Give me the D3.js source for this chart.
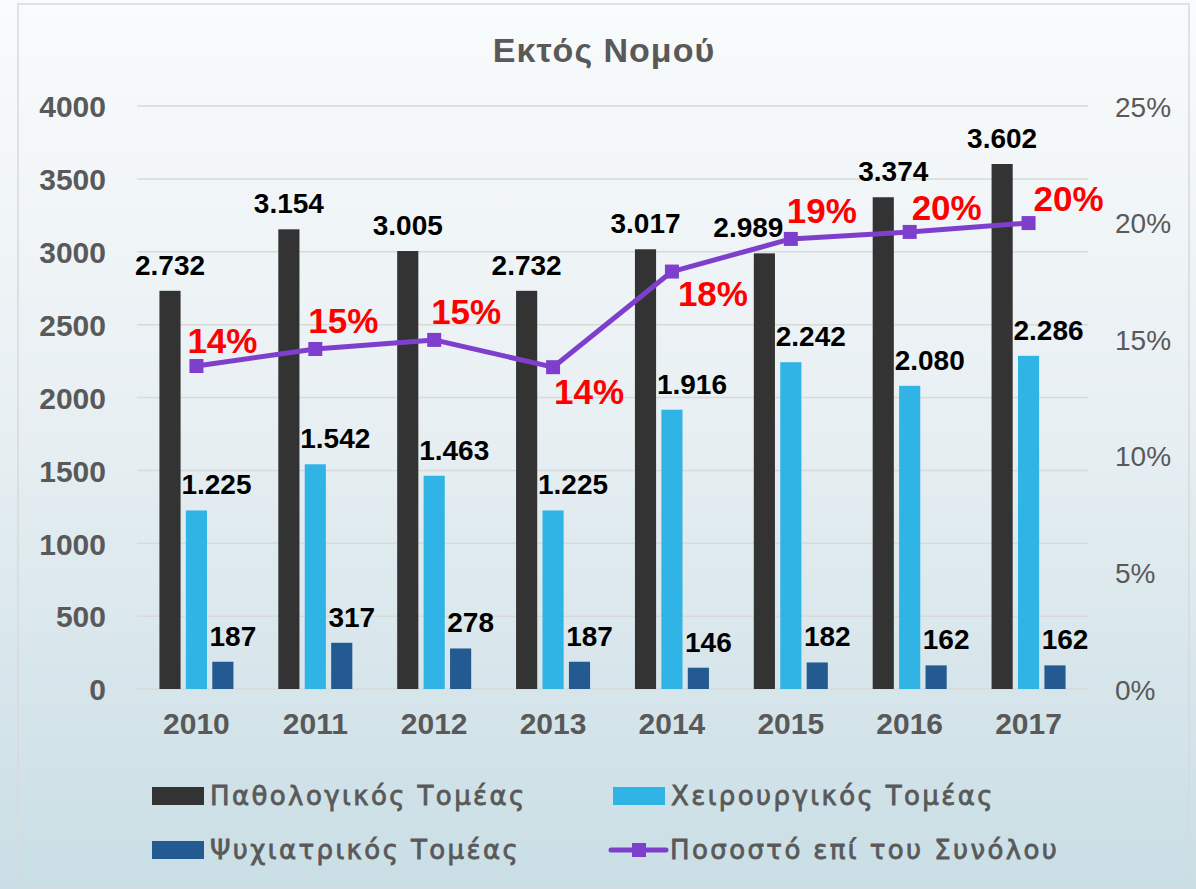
<!DOCTYPE html>
<html>
<head>
<meta charset="utf-8">
<script src="https://cdn.jsdelivr.net/npm/d3@7"></script>
<style>
  html, body { margin: 0; padding: 0; background: #fff; }
  svg { display: block; }
</style>
</head>
<body>
<div id="chart"></div>
<script>
// data
const years = ["2010", "2011", "2012", "2013", "2014", "2015", "2016", "2017"];
const pathologikos = [2732, 3154, 3005, 2732, 3017, 2989, 3374, 3602];
const xeirourgikos = [1225, 1542, 1463, 1225, 1916, 2242, 2080, 2286];
const psyxiatrikos = [187, 317, 278, 187, 146, 182, 162, 162];
const pososto = [0.1385, 0.1458, 0.1497, 0.1380, 0.1790, 0.1930, 0.1960, 0.1998];
const leftTicks = [0, 500, 1000, 1500, 2000, 2500, 3000, 3500, 4000];
const rightTicks = [0, 0.05, 0.10, 0.15, 0.20, 0.25];

const seriesNames = ["Παθολογικός Τομέας", "Χειρουργικός Τομέας", "Ψυχιατρικός Τομέας"];
const lineName = "Ποσοστό επί του Συνόλου";
const title = "Εκτός Νομού";

// layout / style
const W = 1196, H = 889;
const colors = ["#333333", "#30B4E6", "#245A92"];
const purple = "#7E40CC";
const gray = "#595959";
const NUMFONT = "'Liberation Sans', Arial, sans-serif";
const TXTFONT = "'DejaVu Sans', sans-serif";
const labelShift = [0, 20, 10];           // x shift of bar value labels per series
const darkLabelNudge = [0, 0, 0, 0, 0, -16, 10, 0]; // labels moved aside in the original
const pctOffset = [[26,-13],[28,-16],[32,-16],[36,37],[41,34],[31,-16],[37,-12],[40,-12]];

const locale = d3.formatLocale({decimal: ",", thousands: ".", grouping: [3], currency: ["", "€"]});
const fmt = locale.format(",d");

const svg = d3.select("#chart").append("svg")
  .attr("width", W).attr("height", H);

const defs = svg.append("defs");
const grad = defs.append("linearGradient").attr("id", "bg")
  .attr("x1", 0).attr("y1", 0).attr("x2", 0).attr("y2", 1);
grad.append("stop").attr("offset", "0%").attr("stop-color", "#F9FBFC");
grad.append("stop").attr("offset", "45%").attr("stop-color", "#E9F0F3");
grad.append("stop").attr("offset", "100%").attr("stop-color", "#C9DEE5");

svg.append("rect").attr("width", W).attr("height", H).attr("fill", "url(#bg)");
svg.append("rect").attr("x", 18).attr("y", 4).attr("width", 1171).attr("height", 882)
  .attr("fill", "none").attr("stroke", "#D9D9D9").attr("stroke-width", 1.5);

const plot = {l: 137, r: 1088, t: 106, b: 689};

const x = d3.scaleBand().domain(years).range([plot.l, plot.r]).padding(0);
const y = d3.scaleLinear().domain([0, 4000]).range([plot.b, plot.t]);
const y2 = d3.scaleLinear().domain([0, 0.25]).range([plot.b, plot.t]);
const xs = d3.scaleBand().domain([0, 1, 2]).range([-37, 37]).paddingInner(0.2).paddingOuter(0);

// title
svg.append("text")
  .attr("x", 604).attr("y", 62)
  .attr("text-anchor", "middle")
  .attr("font-family", NUMFONT).attr("font-weight", "bold").attr("font-size", 34)
  .attr("letter-spacing", 1)
  .attr("fill", gray)
  .text(title);

// gridlines
svg.append("g").selectAll("line")
  .data(leftTicks)
  .join("line")
  .attr("x1", plot.l).attr("x2", plot.r)
  .attr("y1", d => y(d)).attr("y2", d => y(d))
  .attr("stroke", "#D9D9D9").attr("stroke-width", 1.5);

// left axis
const leftAxis = svg.append("g")
  .attr("transform", `translate(${106},0)`)
  .call(d3.axisLeft(y).tickValues(leftTicks).tickSize(0).tickPadding(0).tickFormat(d3.format("d")));
leftAxis.select(".domain").remove();
leftAxis.selectAll("text")
  .attr("font-family", NUMFONT).attr("font-weight", "bold").attr("font-size", 30)
  .attr("fill", gray).attr("dy", "0.36em");

// right axis
const rightAxis = svg.append("g")
  .attr("transform", `translate(${1115},0)`)
  .call(d3.axisRight(y2).tickValues(rightTicks).tickSize(0).tickPadding(0).tickFormat(d3.format(".0%")));
rightAxis.select(".domain").remove();
rightAxis.selectAll("text")
  .attr("font-family", NUMFONT).attr("font-size", 28)
  .attr("fill", gray).attr("dy", "0.36em");

// bottom axis
const bottomAxis = svg.append("g")
  .attr("transform", `translate(0,${plot.b})`)
  .call(d3.axisBottom(x).tickSize(0).tickPadding(0));
bottomAxis.select(".domain").remove();
bottomAxis.selectAll("text")
  .attr("font-family", NUMFONT).attr("font-weight", "bold").attr("font-size", 30)
  .attr("fill", gray).attr("dy", "1.5em");

// bars
const series = [pathologikos, xeirourgikos, psyxiatrikos];
series.forEach((vals, si) => {
  const g = svg.append("g");
  const rows = years.map((yr, i) => ({yr, v: vals[i], i}));
  g.selectAll("rect")
    .data(rows)
    .join("rect")
    .attr("x", d => x(d.yr) + x.bandwidth() / 2 + xs(si))
    .attr("width", xs.bandwidth())
    .attr("y", d => y(d.v))
    .attr("height", d => y(0) - y(d.v))
    .attr("fill", colors[si]);
  g.selectAll("text")
    .data(rows)
    .join("text")
    .attr("x", d => x(d.yr) + x.bandwidth() / 2 + xs(si) + xs.bandwidth() / 2 + labelShift[si]
      + (si === 0 ? darkLabelNudge[d.i] : 0))
    .attr("y", d => y(d.v) - 16)
    .attr("text-anchor", "middle")
    .attr("font-family", NUMFONT).attr("font-weight", "bold").attr("font-size", 28)
    .attr("fill", "#000")
    .text(d => fmt(d.v));
});

// line
const pts = years.map((yr, i) => ({yr, v: pososto[i], i}));
const line = d3.line().x(d => x(d.yr) + x.bandwidth() / 2).y(d => y2(d.v));
svg.append("path")
  .datum(pts)
  .attr("d", line)
  .attr("fill", "none").attr("stroke", purple).attr("stroke-width", 5)
  .attr("stroke-linejoin", "round");
svg.append("g").selectAll("rect")
  .data(pts)
  .join("rect")
  .attr("x", d => x(d.yr) + x.bandwidth() / 2 - 7)
  .attr("y", d => y2(d.v) - 7)
  .attr("width", 14).attr("height", 14)
  .attr("fill", purple);
svg.append("g").selectAll("text")
  .data(pts)
  .join("text")
  .attr("x", d => x(d.yr) + x.bandwidth() / 2 + pctOffset[d.i][0])
  .attr("y", d => y2(d.v) + pctOffset[d.i][1])
  .attr("text-anchor", "middle")
  .attr("font-family", NUMFONT).attr("font-weight", "bold").attr("font-size", 35)
  .attr("fill", "#FF0000")
  .text(d => d3.format(".0%")(d.v));

// legend
const legendItems = [
  {name: seriesNames[0], type: "bar", color: colors[0], x: 152, y: 796},
  {name: seriesNames[1], type: "bar", color: colors[1], x: 613, y: 796},
  {name: seriesNames[2], type: "bar", color: colors[2], x: 152, y: 850},
  {name: lineName, type: "line", color: purple, x: 611, y: 850}
];
const lg = svg.append("g").selectAll("g")
  .data(legendItems)
  .join("g")
  .attr("transform", d => `translate(${d.x},${d.y})`);
lg.filter(d => d.type === "bar").append("rect")
  .attr("x", 0).attr("y", -9).attr("width", 52).attr("height", 18)
  .attr("fill", d => d.color);
lg.filter(d => d.type === "line").append("line")
  .attr("x1", 0).attr("x2", 55).attr("y1", 0).attr("y2", 0)
  .attr("stroke", d => d.color).attr("stroke-width", 5).attr("stroke-linecap", "round");
lg.filter(d => d.type === "line").append("rect")
  .attr("x", 21).attr("y", -7).attr("width", 14).attr("height", 14)
  .attr("fill", d => d.color);
lg.append("text")
  .attr("x", d => d.type === "bar" ? 58 : 59)
  .attr("y", 0).attr("dy", "0.36em")
  .attr("font-family", TXTFONT).attr("font-size", 26)
  .attr("letter-spacing", 2.4)
  .attr("fill", gray).attr("stroke", gray).attr("stroke-width", 0.8)
  .text(d => d.name);
</script>
</body>
</html>
